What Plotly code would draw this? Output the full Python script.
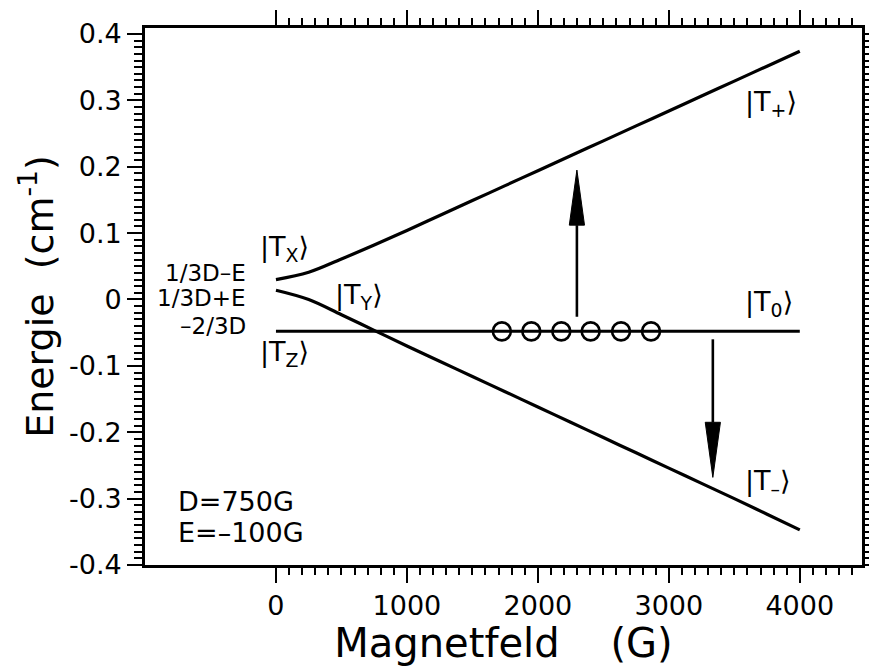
import plotly.graph_objects as go

# ---------------- data ----------------
field = [0, 250, 500, 750, 1000, 1250, 1500, 1750, 2000, 2250, 2500, 2750, 3000, 3250, 3500, 3750, 4000]
e_plus = [0.030, 0.041, 0.061, 0.082, 0.104, 0.1265, 0.149, 0.1715, 0.194, 0.2165, 0.239, 0.2615,
          0.284, 0.3065, 0.329, 0.3515, 0.374]
e_minus = [0.014, 0.000, -0.023, -0.0465, -0.070, -0.093, -0.116, -0.139, -0.162, -0.185, -0.208, -0.231,
           -0.254, -0.277, -0.300, -0.3235, -0.347]
t0_field = [0, 4000]
t0_energy = [-0.048, -0.048]
circle_field = [1725, 1950, 2179, 2403, 2635, 2864]
circle_energy = [-0.048] * 6

arrow_x = [2298, 3336]
arrow_from = [-0.026, -0.060]
arrow_to = [0.195, -0.268]

x_tickvals = [0, 500, 1000, 1500, 2000, 2500, 3000, 3500, 4000]
x_ticktext = ["0", "", "1000", "", "2000", "", "3000", "", "4000"]
x_minor = [v for v in range(100, 4500, 100)]
y_tickvals = [-0.4, -0.35, -0.3, -0.25, -0.2, -0.15, -0.1, -0.05, 0, 0.05, 0.1, 0.15, 0.2, 0.25, 0.3, 0.35, 0.4]
y_ticktext = ["-0.4", "", "-0.3", "", "-0.2", "", "-0.1", "", "0", "", "0.1", "", "0.2", "", "0.3", "", "0.4"]
y_minor = [round(-0.4 + 0.01 * i, 2) for i in range(81)]

FONT = "DejaVu Sans"
BLACK = "black"

fig = go.Figure()
fig.add_trace(go.Scatter(x=field, y=e_plus, mode="lines", line=dict(color=BLACK, width=3.2, shape="spline", smoothing=1.0), hoverinfo="skip"))
fig.add_trace(go.Scatter(x=field, y=e_minus, mode="lines", line=dict(color=BLACK, width=3.2, shape="spline", smoothing=1.0), hoverinfo="skip"))
fig.add_trace(go.Scatter(x=t0_field, y=t0_energy, mode="lines", line=dict(color=BLACK, width=3), hoverinfo="skip"))
fig.add_trace(go.Scatter(x=circle_field, y=circle_energy, mode="markers",
                         marker=dict(symbol="circle-open", size=18, color=BLACK, line=dict(width=2.6, color=BLACK)),
                         hoverinfo="skip"))

# arrows: shaft + filled narrow head
HEAD_LEN = 0.083
HEAD_HALF = 58
for ax, y0, y1 in zip(arrow_x, arrow_from, arrow_to):
    sgn = 1 if y1 > y0 else -1
    base = y1 - sgn * HEAD_LEN
    fig.add_trace(go.Scatter(x=[ax, ax], y=[y0, base], mode="lines", line=dict(color=BLACK, width=2.6), hoverinfo="skip"))
    fig.add_trace(go.Scatter(x=[ax - HEAD_HALF, ax, ax + HEAD_HALF, ax - HEAD_HALF], y=[base, y1, base, base],
                             mode="lines", fill="toself", fillcolor=BLACK, line=dict(color=BLACK, width=1),
                             hoverinfo="skip"))

def txt(x, y, s, size, xanchor="left"):
    fig.add_annotation(x=x, y=y, text=s, showarrow=False, xanchor=xanchor, yanchor="middle",
                       font=dict(family=FONT, size=size, color=BLACK))

KET = 27
txt(-135, 0.077, "|T<sub>X</sub>⟩", KET)
txt(437, 0.005, "|T<sub>Y</sub>⟩", KET)
txt(-135, -0.081, "|T<sub>Z</sub>⟩", KET)
txt(3565, -0.006, "|T<sub>0</sub>⟩", KET)
txt(3565, 0.295, "|T<sub>+</sub>⟩", KET)
txt(3565, -0.275, "|T<sub>–</sub>⟩", KET)

LBL = 23
txt(-215, 0.0397, "1/3D–E", LBL, "right")
txt(-215, 0.002, "1/3D+E", LBL, "right")
txt(-215, -0.040, "–2/3D", LBL, "right")

txt(-761, -0.304, "D=750G", 27)
txt(-761, -0.351, "E=–100G", 27)

axis_common = dict(showline=True, linewidth=2.6, linecolor=BLACK, mirror="ticks", ticks="outside",
                   tickwidth=2, tickcolor=BLACK, ticklen=15, showgrid=False, zeroline=False, automargin=False,
                   tickfont=dict(family=FONT, size=27, color=BLACK))

fig.update_xaxes(range=[-1000, 4475], tickmode="array", tickvals=x_tickvals, ticktext=x_ticktext,
                 minor=dict(tickmode="array", tickvals=x_minor, ticklen=7, tickwidth=2, tickcolor=BLACK, ticks="outside"),
                 title=dict(text="Magnetfeld    (G)", font=dict(family=FONT, size=40, color=BLACK), standoff=7),
                 ticklabelstandoff=0,
                 **axis_common)
fig.update_yaxes(range=[-0.4, 0.409], tickmode="array", tickvals=y_tickvals, ticktext=y_ticktext,
                 minor=dict(tickmode="array", tickvals=y_minor, ticklen=8, tickwidth=2, tickcolor=BLACK, ticks="outside"),
                 title=dict(text="Energie  (cm<sup>-1</sup>)", font=dict(family=FONT, size=38, color=BLACK), standoff=4),
                 ticklabelstandoff=0,
                 **axis_common)

fig.update_layout(width=869, height=666, margin=dict(l=145, r=7, t=28, b=101),
                  paper_bgcolor="white", plot_bgcolor="white", showlegend=False,
                  font=dict(family=FONT, color=BLACK))

fig.write_html("out.html")
